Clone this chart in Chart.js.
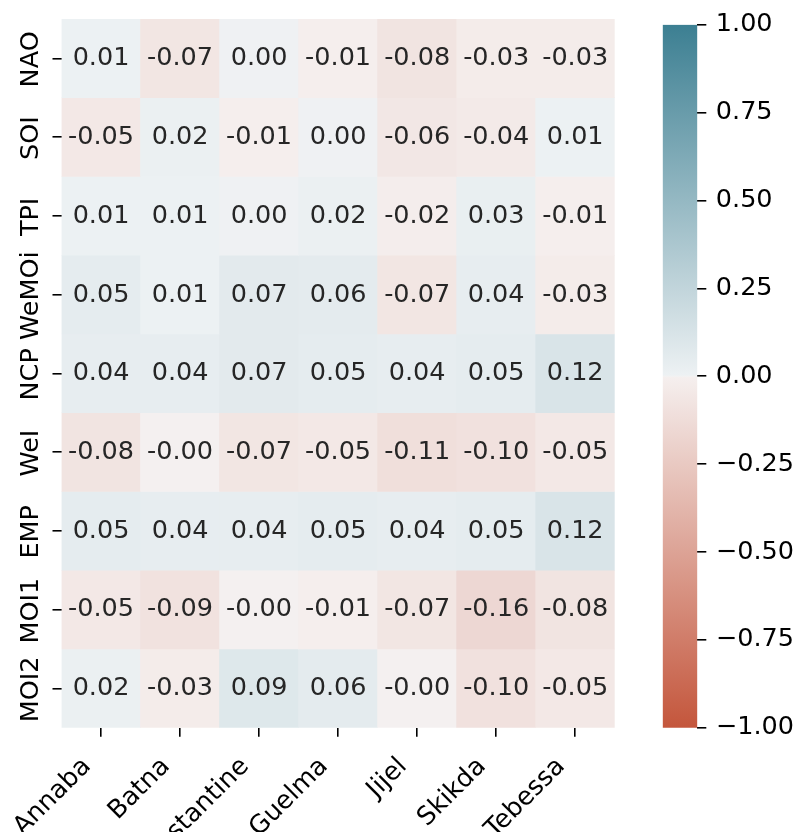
<!DOCTYPE html>
<html><head><meta charset="utf-8">
<script src="https://cdn.jsdelivr.net/npm/chart.js@4.4.0/dist/chart.umd.min.js"></script>
<style>
html,body{margin:0;padding:0;background:#fff;}
#wrap{position:relative;width:798px;height:832px;overflow:hidden;}
canvas{position:absolute;left:0;top:0;}
</style></head><body>
<div id="wrap"><canvas id="heat" width="798" height="832"></canvas><canvas id="cbar" width="798" height="832"></canvas></div>
<script>
// ---- data ----
const stations = ['Annaba', 'Batna', 'Constantine', 'Guelma', 'Jijel', 'Skikda', 'Tebessa'];
const indices = ['NAO', 'SOI', 'TPI', 'WeMOi', 'NCP', 'WeI', 'EMP', 'MOI1', 'MOI2'];
const NAO   = [0.01, -0.07, 0.00, -0.01, -0.08, -0.03, -0.03];
const SOI   = [-0.05, 0.02, -0.01, 0.00, -0.06, -0.04, 0.01];
const TPI   = [0.01, 0.01, 0.00, 0.02, -0.02, 0.03, -0.01];
const WeMOi = [0.05, 0.01, 0.07, 0.06, -0.07, 0.04, -0.03];
const NCP   = [0.04, 0.04, 0.07, 0.05, 0.04, 0.05, 0.12];
const WeI   = [-0.08, -0.004, -0.07, -0.05, -0.11, -0.10, -0.05];
const EMP   = [0.05, 0.04, 0.04, 0.05, 0.04, 0.05, 0.12];
const MOI1  = [-0.05, -0.09, -0.004, -0.01, -0.07, -0.16, -0.08];
const MOI2  = [0.02, -0.03, 0.09, 0.06, -0.004, -0.10, -0.05];
const colorbarTicks = [-1, -0.75, -0.5, -0.25, 0, 0.25, 0.5, 0.75, 1];

const rowValues = [NAO, SOI, TPI, WeMOi, NCP, WeI, EMP, MOI1, MOI2];

// ---- style ----
const FONT = 'DejaVu Sans';
const FS = 25.5;
const RED = [196, 86, 60];
const LRED = [245, 239, 238];
const GRAY = [242, 242, 242];
const LBLUE = [237, 241, 243];
const BLUE = [60, 127, 146];
function lerp(a, b, t) { return a.map((v, i) => v + (b[i] - v) * t); }
function rgb(c) { return 'rgb(' + c.map(v => Math.round(v)).join(',') + ')'; }
function cmap(v) {
  const idx = Math.max(0, Math.min(255, Math.floor((v + 1) / 2 * 256)));
  const p = idx / 255 * 256;
  let c;
  if (p <= 127) c = lerp(RED, LRED, p / 127);
  else if (p <= 128) c = lerp(LRED, GRAY, p - 127);
  else if (p <= 129) c = lerp(GRAY, LBLUE, p - 128);
  else c = lerp(LBLUE, BLUE, (p - 129) / 127);
  return rgb(c);
}

const datasets = indices.map((name, r) => ({
  label: name,
  data: rowValues[r].map(() => [r, r + 1]),
  values: rowValues[r],
  backgroundColor: rowValues[r].map(cmap),
  borderWidth: 0,
  grouped: false,
  barPercentage: 1,
  categoryPercentage: 1
}));

const annotPlugin = {
  id: 'annot',
  afterDatasetsDraw(chart) {
    const ctx = chart.ctx, ys = chart.scales.y;
    ctx.save();
    ctx.font = FS + 'px "' + FONT + '"';
    ctx.textAlign = 'center';
    ctx.textBaseline = 'alphabetic';
    ctx.fillStyle = '#262626';
    chart.data.datasets.forEach((ds, r) => {
      const meta = chart.getDatasetMeta(r);
      const cy = ys.getPixelForValue(r + 0.5);
      meta.data.forEach((el, c) => {
        ctx.fillText(ds.values[c].toFixed(2), el.x, cy + 6.9);
      });
    });
    ctx.fillStyle = '#000';
    indices.forEach((name, r) => {
      const cy = ys.getPixelForValue(r + 0.5);
      ctx.save();
      ctx.translate(ys.right - 24, cy + 1);
      ctx.rotate(-Math.PI / 2);
      ctx.fillText(name, 0, 0);
      ctx.restore();
    });
    ctx.restore();
  }
};

new Chart(document.getElementById('heat'), {
  type: 'bar',
  data: { labels: stations, datasets: datasets },
  options: {
    responsive: false, animation: false, devicePixelRatio: 1,
    layout: { padding: { left: 0, top: 19, right: 183.3, bottom: 0 } },
    plugins: { legend: { display: false }, tooltip: { enabled: false } },
    scales: {
      x: {
        type: 'category', offset: true,
        grid: { display: true, drawOnChartArea: false, drawTicks: true, tickLength: 9, color: '#000', lineWidth: 1.6, offset: false },
        border: { display: false },
        ticks: { font: { family: FONT, size: FS }, color: '#000', minRotation: 45, maxRotation: 45, autoSkip: false, padding: 15, labelOffset: -14 },
        afterFit(s) { s.height = 104.3; }
      },
      y: {
        type: 'linear', min: 0, max: 9, reverse: true,
        afterBuildTicks(s) { s.ticks = indices.map((_, i) => ({ value: i + 0.5 })); },
        grid: { display: true, drawOnChartArea: false, drawTicks: true, tickLength: 9, color: '#000', lineWidth: 1.6 },
        border: { display: false },
        ticks: { display: false },
        afterFit(s) { s.width = 61.5; }
      }
    }
  },
  plugins: [annotPlugin]
});

function cbarGradient(context) {
  const chart = context.chart;
  if (!chart.chartArea) return rgb(GRAY);
  const ys = chart.scales.y;
  const g = chart.ctx.createLinearGradient(0, ys.getPixelForValue(1), 0, ys.getPixelForValue(-1));
  g.addColorStop(0, rgb(BLUE));
  g.addColorStop(0.498, rgb(LBLUE));
  g.addColorStop(0.5, rgb(GRAY));
  g.addColorStop(0.502, rgb(LRED));
  g.addColorStop(1, rgb(RED));
  return g;
}

new Chart(document.getElementById('cbar'), {
  type: 'bar',
  data: { labels: [''], datasets: [{ data: [[-1, 1]], backgroundColor: cbarGradient, borderWidth: 0, barPercentage: 1, categoryPercentage: 1 }] },
  options: {
    responsive: false, animation: false, devicePixelRatio: 1,
    layout: { padding: { left: 662.7, top: 19, right: 0, bottom: 104.3 } },
    plugins: { legend: { display: false }, tooltip: { enabled: false } },
    scales: {
      x: { display: false },
      y: {
        position: 'right', min: -1, max: 1,
        afterBuildTicks(s) { s.ticks = colorbarTicks.map(v => ({ value: v })); },
        ticks: { font: { family: FONT, size: FS }, color: '#000', padding: 9.5,
                 callback: v => (v < 0 ? '\u2212' : '') + Math.abs(v).toFixed(2) },
        grid: { display: true, drawOnChartArea: false, drawTicks: true, tickLength: 9, color: '#000', lineWidth: 1.6 },
        border: { display: false },
        afterFit(s) { s.width = 798 - 697.3; }
      }
    }
  }
});
</script>
</body></html>
